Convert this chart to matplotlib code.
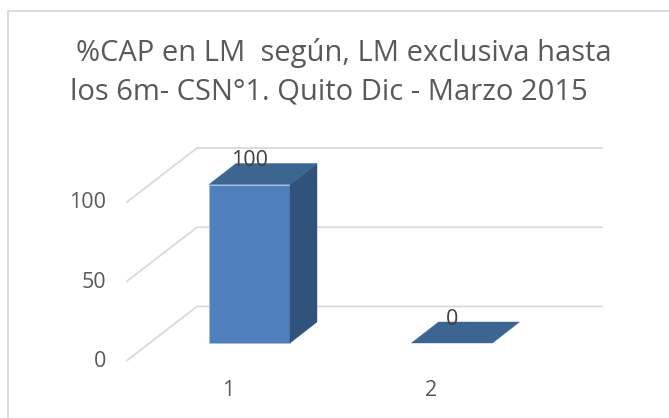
import matplotlib
matplotlib.use("Agg")
import matplotlib.pyplot as plt
from matplotlib.patches import Polygon

categories = [1, 2]
values = [100, 0]
y_ticks = [0, 50, 100]
title_lines = ["%CAP en LM  según, LM exclusiva hasta", "los 6m- CSN°1. Quito Dic - Marzo 2015"]

W, H = 669, 418
PX_PER_CAT = 202.5
PX_PER_VAL = 1.585
X0_PX, Y0_PX = 249.5, 343

plt.rcParams['font.family'] = ['Open Sans', 'DejaVu Sans']
fig = plt.figure(figsize=(W / 100, H / 100), dpi=100, facecolor='white')
ax = fig.add_axes([0, 0, 1, 1])
ax.set_xlim(1 - X0_PX / PX_PER_CAT, 1 + (W - X0_PX) / PX_PER_CAT)
ax.set_ylim(-(H - Y0_PX) / PX_PER_VAL, Y0_PX / PX_PER_VAL)
ax.axis('off')

dx = 27 / PX_PER_CAT
dy = 21 / PX_PER_VAL
bw = 81 / PX_PER_CAT
GRAY = '#d9d9d9'
TXT = '#595959'

fx = lambda p: 1 + (p - X0_PX) / PX_PER_CAT
fy = lambda p: (Y0_PX - p) / PX_PER_VAL
# chart frame is cropped: only left and top edges show
ax.plot([fx(8.5), fx(8.5), fx(669)], [fy(418), fy(10.5), fy(10.5)], color=GRAY, lw=1.3,
        solid_joinstyle='miter', zorder=1)

for v in y_ticks:
    y_back = v + fy(306.5)
    y_front = v + fy(360.5)
    ax.plot([fx(127), fx(197), fx(602)], [y_front, y_back, y_back], color=GRAY, lw=1.3,
            solid_joinstyle='miter', zorder=1)
    ax.text(fx(106), v + fy(367), str(v), ha='right', va='baseline', fontsize=15.5, color=TXT)

for c, v in zip(categories, values):
    l, r = c - bw / 2, c + bw / 2
    if v > 0:
        ax.add_patch(Polygon([(l, 0), (r, 0), (r, v), (l, v)], fc='#4f80bd', ec='#a9c0de', lw=0.6, zorder=3))
        ax.add_patch(Polygon([(r, 0), (r + dx, dy), (r + dx, v + dy), (r, v)], fc='#31527a', ec='#31527a', lw=0.3, zorder=3))
    ax.add_patch(Polygon([(l, v), (r, v), (r + dx, v + dy), (l + dx, v + dy)], fc='#3d6592', ec='#3d6592', lw=0.3, zorder=3))
    ax.text(c, v + fy(325), str(v), ha='center', va='baseline', fontsize=15.5, color='#404040', zorder=4)
    ax.text(c - 21 / PX_PER_CAT, fy(396), str(c), ha='center', va='baseline', fontsize=15.5, color=TXT)

ax.text(fx(343.5), fy(61), title_lines[0], ha='center', va='baseline', fontsize=21, color=TXT)
ax.text(fx(328.5), fy(100), title_lines[1], ha='center', va='baseline', fontsize=21, color=TXT)

fig.savefig('out.png', dpi=100, facecolor='white')
